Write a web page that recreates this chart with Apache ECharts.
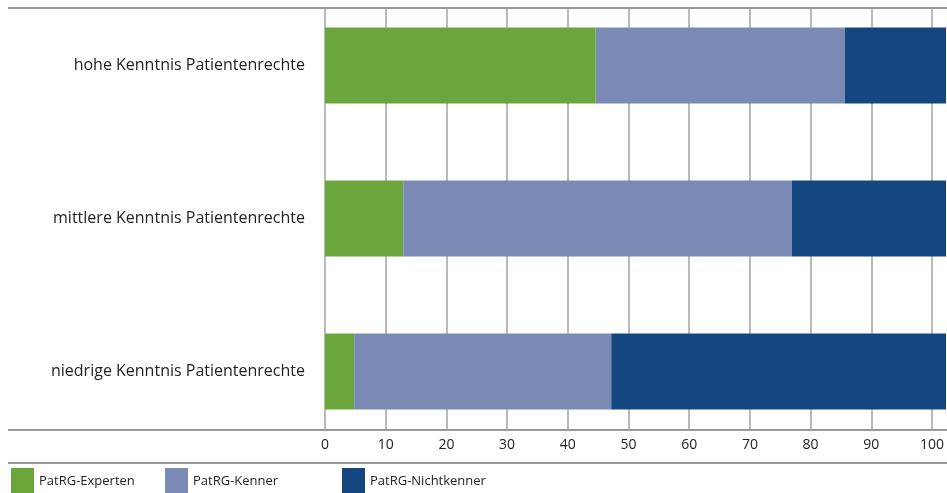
<!DOCTYPE html>
<html><head><meta charset="utf-8">
<script src="https://cdn.jsdelivr.net/npm/echarts@6/dist/echarts.min.js"></script>
<style>html,body{margin:0;padding:0;background:#fff}#c{width:947px;height:493px}</style>
</head><body><div id="c"></div>
<script>
const categories = ['hohe Kenntnis Patientenrechte', 'mittlere Kenntnis Patientenrechte', 'niedrige Kenntnis Patientenrechte'];
const experten = [43.6, 12.6, 4.7];
const kenner = [40.1, 62.6, 41.4];
const nichtkenner = [16.3, 24.8, 53.9];
const xTicks = [0, 10, 20, 30, 40, 50, 60, 70, 80, 90, 100];
const seriesNames = ['PatRG-Experten', 'PatRG-Kenner', 'PatRG-Nichtkenner'];
const colors = ['#6aa63c', '#7a8ab5', '#14467f'];

const FONT = 'Open Sans';
const chart = echarts.init(document.getElementById('c'), null, {renderer: 'canvas'});
const mk = (name, data, i) => ({
  name, type: 'bar', stack: 's', data, xAxisIndex: 0, yAxisIndex: 0,
  barWidth: 76, itemStyle: {color: colors[i]}, z: 3
});
chart.setOption({
  animation: false,
  textStyle: {fontFamily: FONT},
  grid: [
    {left: 325, right: 1, top: 65.5, height: 306, containLabel: false},
    {left: 325, right: 1, top: 8, height: 422, containLabel: false}
  ],
  xAxis: [
    {gridIndex: 0, type: 'value', min: 0, max: 100, show: false},
    {gridIndex: 1, type: 'value', min: 0, max: 100, interval: 10,
     axisLine: {show: false}, axisTick: {show: false},
     splitLine: {show: true, lineStyle: {color: '#a3a3a3', width: 1.5}},
     axisLabel: {color: '#222', fontSize: 14, margin: 8, fontFamily: FONT,
       formatter: v => xTicks.includes(v) ? String(v) : ''}}
  ],
  yAxis: [
    {gridIndex: 0, type: 'category', data: categories, inverse: true, boundaryGap: false,
     axisLine: {show: false}, axisTick: {show: false}, splitLine: {show: false},
     axisLabel: {color: '#222', fontSize: 16, margin: 20, fontFamily: FONT}},
    {gridIndex: 1, type: 'value', show: false}
  ],
  legend: seriesNames.map((n, i) => ({
    data: [n], left: [11, 165, 342][i], top: 468, itemWidth: 23, itemHeight: 26,
    padding: 0, icon: 'rect', textStyle: {fontSize: 13, color: '#222', fontFamily: FONT},
    selectedMode: false
  })),
  series: [mk(seriesNames[0], experten, 0), mk(seriesNames[1], kenner, 1), mk(seriesNames[2], nichtkenner, 2)],
  graphic: [
    {type: 'line', shape: {x1: 8, y1: 8, x2: 947, y2: 8}, style: {stroke: '#999', lineWidth: 2}, z: 10},
    {type: 'line', shape: {x1: 8, y1: 430, x2: 947, y2: 430}, style: {stroke: '#999', lineWidth: 2}, z: 10},
    {type: 'line', shape: {x1: 8, y1: 463, x2: 947, y2: 463}, style: {stroke: '#999', lineWidth: 2}, z: 10}
  ]
});
</script></body></html>
